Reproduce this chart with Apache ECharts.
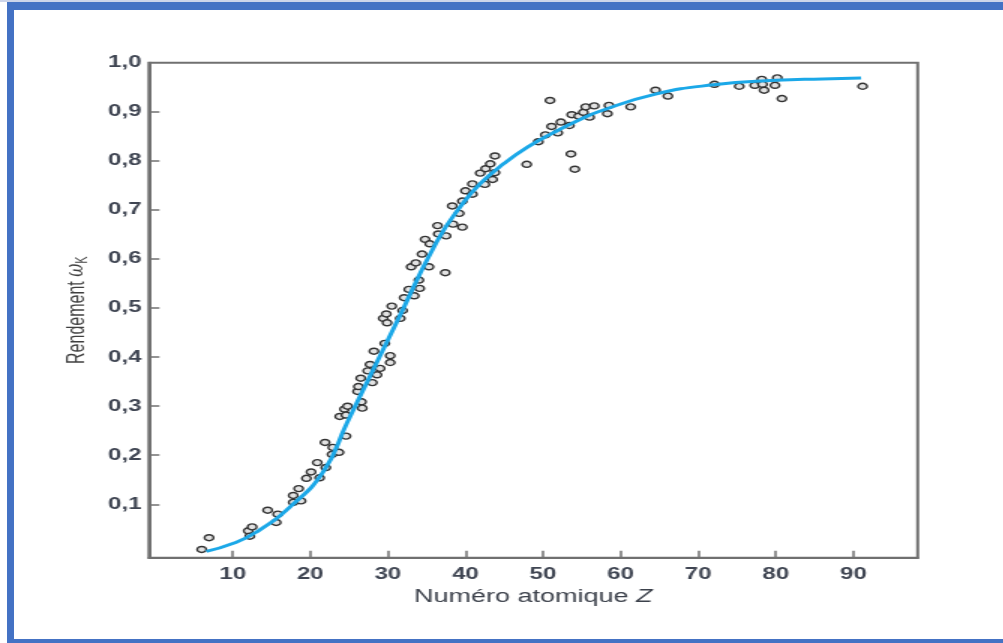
<!DOCTYPE html>
<html>
<head>
<meta charset="utf-8">
<script src="https://cdn.jsdelivr.net/npm/echarts@6/dist/echarts.min.js"></script>
<style>
	html, body { margin: 0; padding: 0; background: #fff; overflow: hidden; }
	#topline { position: absolute; left: 0; top: 0; width: 1003px; height: 2px; background: #cdd5ea; }
	#frame {
		position: absolute; left: 7px; top: 2px; width: 1100px; height: 641px;
		box-sizing: border-box; border-top: 8px solid #4472c4; border-left: 7px solid #4472c4;
		border-bottom: 4px solid #4472c4; pointer-events: none; z-index: 2;
	}
	/* the source picture is stretched sideways, so draw narrow and scale */
	#echarts { position: absolute; left: 0; top: 0; width: 669px; height: 643px; transform: scaleX(1.5); transform-origin: 0 0; }
</style>
</head>
<body>
<div id="topline"></div>
<div id="echarts"></div>
<div id="frame"></div>
<script>
// measured points: atomic number Z and K yield
const pointZ = [
	6.0, 6.95, 12.0, 12.2, 12.5, 14.5, 15.6, 15.8, 17.8, 17.8, 18.5, 18.8, 19.5, 20.1, 20.9, 21.2,
	21.9, 22.0, 22.8, 22.9, 23.7, 23.8, 24.4, 24.6, 24.6, 24.8, 26.1, 26.2, 26.5, 26.6, 26.7, 27.4,
	27.7, 28.0, 28.2, 28.6, 29.0, 29.4, 29.6, 29.8, 29.9, 30.3, 30.3, 30.5, 31.6, 31.9, 32.1, 32.7,
	33.0, 33.4, 33.6, 34.0, 34.1, 34.4, 34.8, 35.3, 35.4, 36.4, 36.5, 37.4, 37.5, 38.3, 38.4, 39.2,
	39.6, 39.6, 40.0, 40.9, 40.9, 41.9, 42.5, 42.6, 43.2, 43.5, 43.8, 43.8, 47.9, 49.4, 50.3, 50.9,
	51.1, 51.9, 52.3, 53.4, 53.6, 53.7, 54.1, 54.6, 55.2, 55.5, 56.0, 56.6, 58.3, 58.5, 61.3, 64.5,
	66.1, 72.1, 75.3, 77.3, 78.2, 78.3, 78.5, 79.9, 80.2, 80.8, 91.2
];
const pointOmega = [
	0.008, 0.032, 0.046, 0.035, 0.054, 0.088, 0.063, 0.080, 0.118, 0.104, 0.132, 0.107, 0.153, 0.166, 0.185, 0.154,
	0.226, 0.175, 0.202, 0.216, 0.206, 0.279, 0.294, 0.239, 0.282, 0.300, 0.330, 0.340, 0.357, 0.309, 0.296, 0.372,
	0.385, 0.348, 0.412, 0.364, 0.377, 0.479, 0.428, 0.488, 0.470, 0.403, 0.389, 0.504, 0.479, 0.495, 0.521, 0.538,
	0.584, 0.525, 0.592, 0.557, 0.540, 0.610, 0.640, 0.584, 0.631, 0.668, 0.651, 0.572, 0.647, 0.708, 0.671, 0.693,
	0.665, 0.718, 0.739, 0.732, 0.753, 0.775, 0.752, 0.784, 0.794, 0.762, 0.776, 0.810, 0.793, 0.839, 0.853, 0.923,
	0.870, 0.857, 0.879, 0.872, 0.814, 0.894, 0.783, 0.891, 0.899, 0.910, 0.889, 0.912, 0.896, 0.913, 0.910, 0.944,
	0.932, 0.956, 0.952, 0.954, 0.966, 0.956, 0.944, 0.954, 0.969, 0.927, 0.952
];

// fitted curve
const curveZ = [6.6, 10, 13, 17.4, 21.7, 24.7, 27.5, 31.1, 36.3, 39.7, 42, 45, 48, 51.3, 54.5, 57.3, 64.5, 72, 80, 86, 91];
const curveOmega = [0.004, 0.02, 0.043, 0.095, 0.167, 0.265, 0.355, 0.47, 0.635, 0.714, 0.755, 0.795, 0.828, 0.857, 0.882, 0.901, 0.936, 0.955, 0.964, 0.967, 0.969];

const xTicks = [10, 20, 30, 40, 50, 60, 70, 80, 90];
const yTicks = [0.1, 0.2, 0.3, 0.4, 0.5, 0.6, 0.7, 0.8, 0.9];
const yLabels = [0.1, 0.2, 0.3, 0.4, 0.5, 0.6, 0.7, 0.8, 0.9, 1.0];

const AXIS_COLOR = "#707070";
const LABEL_COLOR = "#3f4552";
const NAME_COLOR = "#3d424c";
const FONT = "'Liberation Sans', Arial, sans-serif";

const myChart = echarts.init(document.getElementById("echarts"), null, { renderer: "canvas" });

const option = {
	animation: false,
	grid: {
		left: 99.3,
		right: 57.2,
		top: 62.7,
		bottom: 85.3,
		show: true,
		borderColor: AXIS_COLOR,
		borderWidth: 2,
	},
	xAxis: {
		type: "value",
		min: -0.8,
		max: 98.3,
		splitLine: { show: false },
		axisLine: { onZero: false, lineStyle: { color: AXIS_COLOR, width: 2 } },
		axisTick: { inside: true, length: 7, customValues: xTicks, lineStyle: { color: AXIS_COLOR, width: 1.5 } },
		axisLabel: {
			customValues: xTicks,
			margin: 9,
			color: LABEL_COLOR,
			fontFamily: FONT,
			fontWeight: "bold",
			fontSize: 16,
		},
		name: "{n|Numéro atomique }{z|Z}",
		nameLocation: "middle",
		nameGap: 27,
		nameTextStyle: {
			color: NAME_COLOR,
			fontSize: 18,
			fontFamily: FONT,
			rich: {
				n: { fontFamily: FONT, fontSize: 18, color: NAME_COLOR },
				z: { fontFamily: FONT, fontSize: 18, fontStyle: "italic", color: NAME_COLOR },
			},
		},
	},
	yAxis: {
		type: "value",
		min: -0.0088,
		max: 1,
		splitLine: { show: false },
		axisLine: { onZero: false, lineStyle: { color: AXIS_COLOR, width: 2 } },
		axisTick: { inside: true, length: 7, customValues: yTicks, lineStyle: { color: AXIS_COLOR, width: 1.5 } },
		axisLabel: {
			customValues: yLabels,
			margin: 5,
			color: LABEL_COLOR,
			fontFamily: FONT,
			fontWeight: "bold",
			fontSize: 16,
			formatter: (v) => v.toFixed(1).replace(".", ","),
		},
		name: "{r|Rendement }{w|ω}{k|K}",
		nameLocation: "middle",
		nameGap: 40,
		nameTextStyle: {
			color: "#3f3f3f",
			rich: {
				r: { fontFamily: FONT, fontSize: 16, color: "#3f3f3f" },
				w: { fontFamily: "'DejaVu Serif', serif", fontSize: 16, fontStyle: "italic", color: "#3f3f3f" },
				k: { fontFamily: FONT, fontSize: 11, color: "#3f3f3f", lineHeight: 11, padding: [8, 0, 0, 0] },
			},
		},
	},
	series: [
		{
			type: "line",
			data: curveZ.map((z, i) => [z, curveOmega[i]]),
			smooth: true,
			showSymbol: false,
			lineStyle: { color: "#1ba8e8", width: 3 },
		},
		{
			type: "scatter",
			data: pointZ.map((z, i) => [z, pointOmega[i]]),
			symbol: "circle",
			symbolSize: 6,
			itemStyle: { color: "#e3e3e3", borderColor: "#333", borderWidth: 1.4, opacity: 1 },
		},
	],
};
myChart.setOption(option);
</script>
</body>
</html>
